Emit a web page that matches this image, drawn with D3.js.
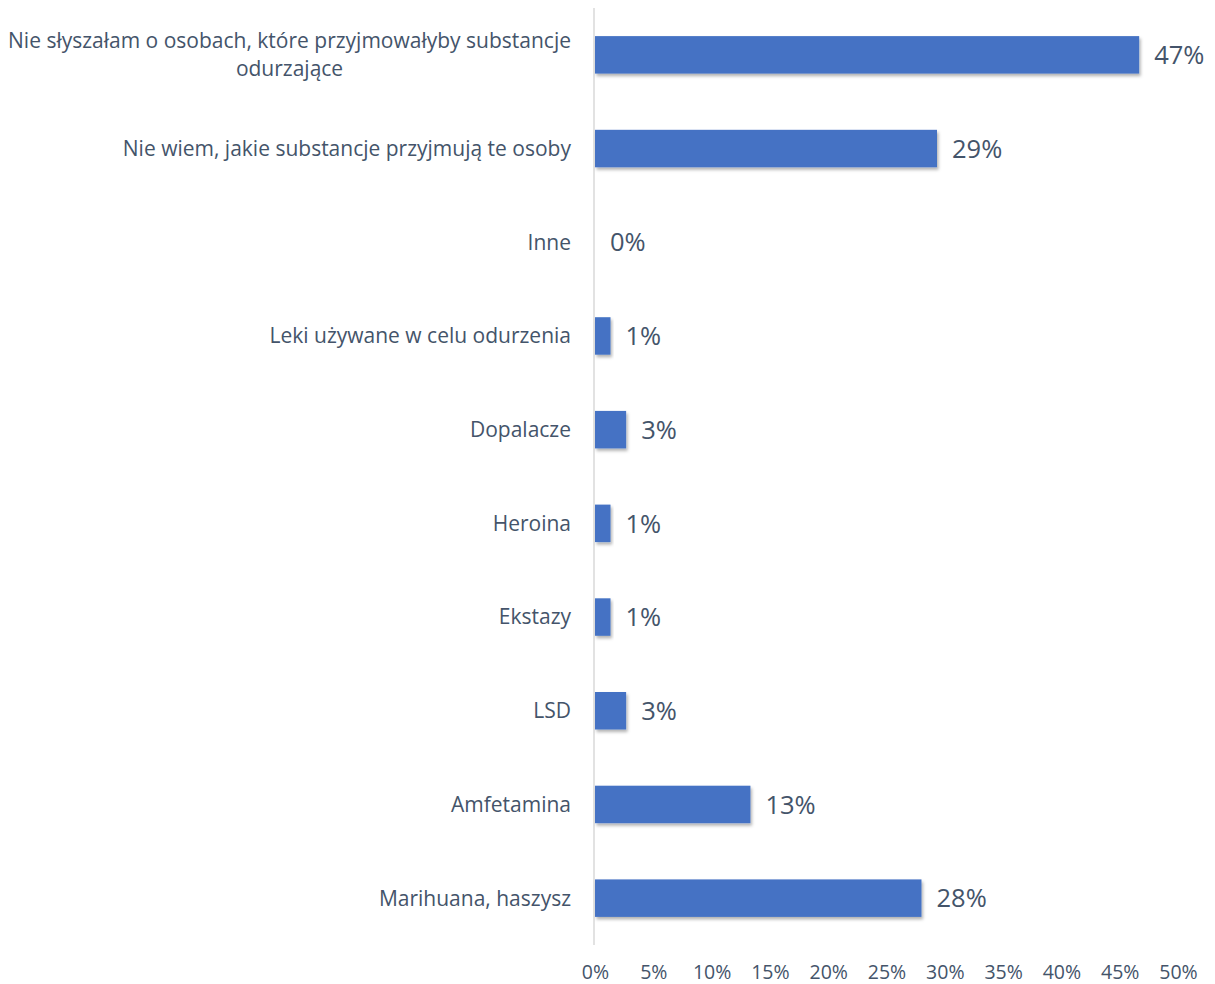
<!DOCTYPE html>
<html>
<head>
<meta charset="utf-8">
<script src="https://cdn.jsdelivr.net/npm/d3@7"></script>
<style>
  html, body { margin: 0; padding: 0; background: #ffffff; }
  svg { display: block; }
</style>
</head>
<body>
<svg id="chart" width="1215" height="984"></svg>
<script>
// ---- data ----
const categories = [
  "Nie słyszałam o osobach, które przyjmowałyby substancje\nodurzające",
  "Nie wiem, jakie substancje przyjmują te osoby",
  "Inne",
  "Leki używane w celu odurzenia",
  "Dopalacze",
  "Heroina",
  "Ekstazy",
  "LSD",
  "Amfetamina",
  "Marihuana, haszysz"
];
const values = [46.67, 29.33, 0, 1.33, 2.67, 1.33, 1.33, 2.67, 13.33, 28.0];
const tickValues = [0, 5, 10, 15, 20, 25, 30, 35, 40, 45, 50];

// ---- layout ----
const x0 = 595, x1 = 1178;
const yTop = 8, yBot = 945;
const font = "'Open Sans', Lato, sans-serif";
const textColor = "#44546a";

const svg = d3.select("#chart");

const defs = svg.append("defs");
const f = defs.append("filter").attr("id", "shadow")
  .attr("x", "-10%").attr("y", "-30%").attr("width", "130%").attr("height", "180%");
f.append("feDropShadow").attr("dx", 1.5).attr("dy", 2.5)
  .attr("stdDeviation", 1.6).attr("flood-color", "#000").attr("flood-opacity", 0.3);

const x = d3.scaleLinear().domain([0, 50]).range([x0, x1]);
const y = d3.scaleBand().domain(categories).range([yTop, yBot]).paddingInner(0.6).paddingOuter(0.3);

// vertical axis line
svg.append("line")
  .attr("x1", x0 - 1).attr("x2", x0 - 1)
  .attr("y1", yTop).attr("y2", yBot)
  .attr("stroke", "#d9d9d9").attr("stroke-width", 1.5);

// bars
svg.append("g").selectAll("rect")
  .data(categories)
  .join("rect")
  .attr("x", x(0))
  .attr("y", d => y(d))
  .attr("width", (d, i) => x(values[i]) - x(0))
  .attr("height", y.bandwidth())
  .attr("fill", "#4472c4")
  .attr("filter", (d, i) => values[i] > 0 ? "url(#shadow)" : null);

// value labels
svg.append("g").selectAll("text")
  .data(categories)
  .join("text")
  .attr("x", (d, i) => x(values[i]) + 15)
  .attr("y", d => y(d) + y.bandwidth() / 2)
  .attr("dy", "0.36em")
  .attr("font-family", font)
  .attr("font-size", 25.5)
  .attr("fill", textColor)
  .text((d, i) => Math.round(values[i]) + "%");

// category labels
const labelRight = 571;
const catG = svg.append("g");
categories.forEach(c => {
  const lines = c.split("\n");
  const cy = y(c) + y.bandwidth() / 2;
  const lh = 28;
  const t = catG.append("text")
    .attr("font-family", font)
    .attr("font-size", 21)
    .attr("fill", textColor);
  lines.forEach((ln, k) => {
    t.append("tspan")
      .attr("x", labelRight)
      .attr("y", cy + (k - (lines.length - 1) / 2) * lh)
      .attr("dy", "0.35em")
      .text(ln);
  });
  if (lines.length > 1) {
    const spans = t.selectAll("tspan").nodes();
    const wMax = d3.max(spans, s => s.getComputedTextLength());
    t.attr("text-anchor", "middle");
    t.selectAll("tspan").attr("x", labelRight - wMax / 2);
  } else {
    t.attr("text-anchor", "end");
  }
});

// x axis tick labels
const axis = d3.axisBottom(x).tickValues(tickValues).tickFormat(d => d + "%").tickSize(0).tickPadding(0);
const ax = svg.append("g").attr("transform", `translate(0, ${979})`).call(axis);
ax.select(".domain").remove();
ax.selectAll("text")
  .attr("font-family", font)
  .attr("font-size", 19.5)
  .attr("fill", textColor)
  .attr("dy", "0");
</script>
</body>
</html>
